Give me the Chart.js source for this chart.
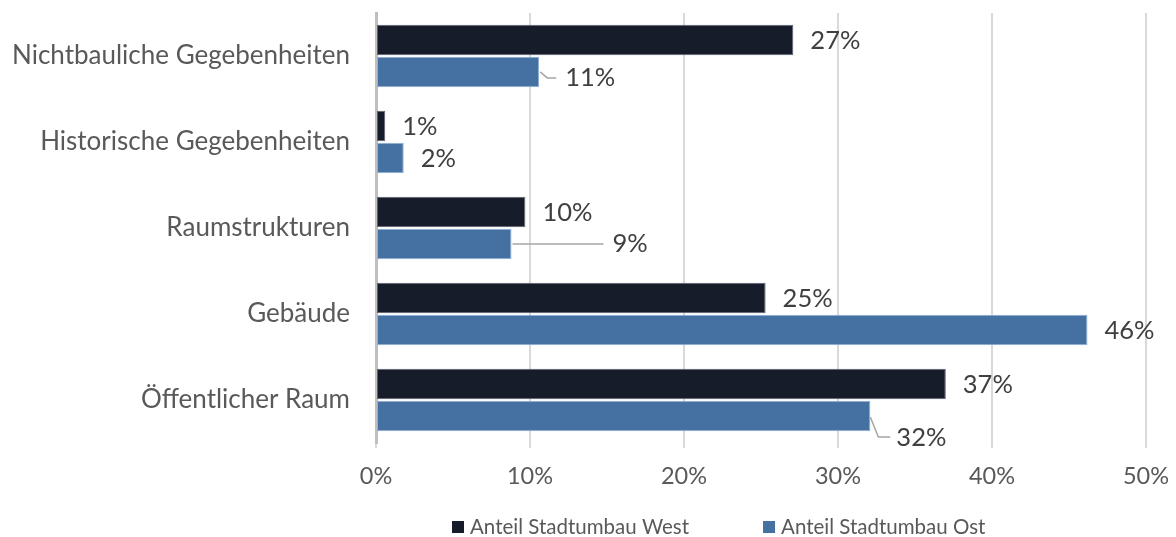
<!DOCTYPE html>
<html lang="de">
<head>
<meta charset="utf-8">
<title>Anteil Stadtumbau West / Ost</title>
<script src="https://cdn.jsdelivr.net/npm/chart.js@4/dist/chart.umd.min.js"></script>
<style>
  html, body { margin: 0; padding: 0; background: #ffffff; }
  #wrap { width: 1176px; height: 537px; }
</style>
</head>
<body>
<div id="wrap"><canvas id="chart" width="1176" height="537"></canvas></div>
<script>
// Kategorien und Werte (Prozent)
const categories = [
  'Nichtbauliche Gegebenheiten',
  'Historische Gegebenheiten',
  'Raumstrukturen',
  'Gebäude',
  'Öffentlicher Raum'
];
const seriesNames = ['Anteil Stadtumbau West', 'Anteil Stadtumbau Ost'];
const westValues = [27.1, 0.6, 9.7, 25.3, 37.0];
const ostValues  = [10.6, 1.8, 8.8, 46.2, 32.1];
const xTicks = [0, 10, 20, 30, 40, 50];

const FONT = 'Lato, "Noto Sans", sans-serif';
const colors = ['#161c2a', '#4470a2'];
const borders = ['#5b6170', '#8fb0d6'];

// Beschriftungen mit Führungslinien: [Datensatz][Index] -> Versatz und Linienzug
const leaderLabels = {
  1: {
    0: { dx: 26, dy: 6,  path: [[1, 0], [8, 6], [17, 6]] },
    2: { dx: 101, dy: 0, path: [[1, 0], [92, 0]] },
    4: { dx: 26, dy: 22, path: [[0, 1], [8, 21], [20, 21]] }
  }
};

const valueLabels = {
  id: 'valueLabels',
  afterDatasetsDraw(chart) {
    const ctx = chart.ctx;
    ctx.save();
    ctx.font = '25.5px ' + FONT;
    ctx.fillStyle = '#404040';
    ctx.textBaseline = 'middle';
    ctx.textAlign = 'left';
    chart.data.datasets.forEach((ds, di) => {
      const meta = chart.getDatasetMeta(di);
      meta.data.forEach((bar, i) => {
        const text = Math.round(ds.data[i]) + '%';
        const lead = leaderLabels[di] && leaderLabels[di][i];
        let lx = bar.x + 17, ly = bar.y + 1;
        if (lead) {
          ctx.beginPath();
          ctx.strokeStyle = '#a6a6a6';
          ctx.lineWidth = 1.5;
          lead.path.forEach((p, k) => {
            const px = bar.x + p[0], py = bar.y + p[1];
            if (k === 0) ctx.moveTo(px, py); else ctx.lineTo(px, py);
          });
          ctx.stroke();
          lx = bar.x + lead.dx;
          ly = bar.y + lead.dy;
        }
        ctx.fillText(text, lx, ly);
      });
    });
    ctx.restore();
  }
};

// Legende unten mit großem Abstand zwischen den Einträgen
const bottomLegend = {
  id: 'bottomLegend',
  afterDraw(chart) {
    const ctx = chart.ctx;
    ctx.save();
    ctx.font = '20.5px ' + FONT;
    ctx.textBaseline = 'middle';
    const box = 12, gapText = 6, gapItems = 74;
    let x = 452;
    const y = 527;
    chart.data.datasets.forEach((ds) => {
      const w = ctx.measureText(ds.label).width;
      ctx.fillStyle = ds.backgroundColor;
      ctx.fillRect(x, y - box / 2, box, box);
      ctx.fillStyle = '#595959';
      ctx.fillText(ds.label, x + box + gapText, y);
      x += box + gapText + w + gapItems;
    });
    ctx.restore();
  }
};

// Achsen ohne automatische Randabstände
function noPadding(scale) {
  scale.paddingTop = 0;
  scale.paddingBottom = 0;
  scale.paddingLeft = 0;
  scale.paddingRight = 0;
}

new Chart(document.getElementById('chart'), {
  type: 'bar',
  data: {
    labels: categories,
    datasets: [
      { label: seriesNames[0], data: westValues, backgroundColor: colors[0],
        borderColor: borders[0], borderWidth: 1, borderSkipped: false,
        categoryPercentage: 0.74, barPercentage: 0.96 },
      { label: seriesNames[1], data: ostValues, backgroundColor: colors[1],
        borderColor: borders[1], borderWidth: 1, borderSkipped: false,
        categoryPercentage: 0.74, barPercentage: 0.96 }
    ]
  },
  options: {
    indexAxis: 'y',
    responsive: false,
    animation: false,
    layout: { padding: { top: 13, right: 30, bottom: 44, left: 0 } },
    plugins: {
      legend: { display: false },
      tooltip: { enabled: false }
    },
    scales: {
      x: {
        min: 0, max: 50,
        afterBuildTicks(scale) { scale.ticks = xTicks.map(v => ({ value: v })); },
        afterFit(scale) { scale.height = 50; noPadding(scale); },
        grid: { color: '#d9d9d9', lineWidth: 2, drawTicks: true, tickLength: 5 },
        border: { display: false },
        ticks: {
          callback: (v) => v + '%',
          color: '#595959',
          font: { family: FONT, size: 23.5 },
          padding: 14
        }
      },
      y: {
        afterFit(scale) { scale.width = 376; noPadding(scale); },
        grid: { display: false, drawTicks: false },
        border: { display: true, color: '#bfbfbf', width: 3 },
        ticks: {
          color: '#595959',
          font: { family: FONT, size: 26 },
          padding: 26
        }
      }
    }
  },
  plugins: [valueLabels, bottomLegend]
});
</script>
</body>
</html>
